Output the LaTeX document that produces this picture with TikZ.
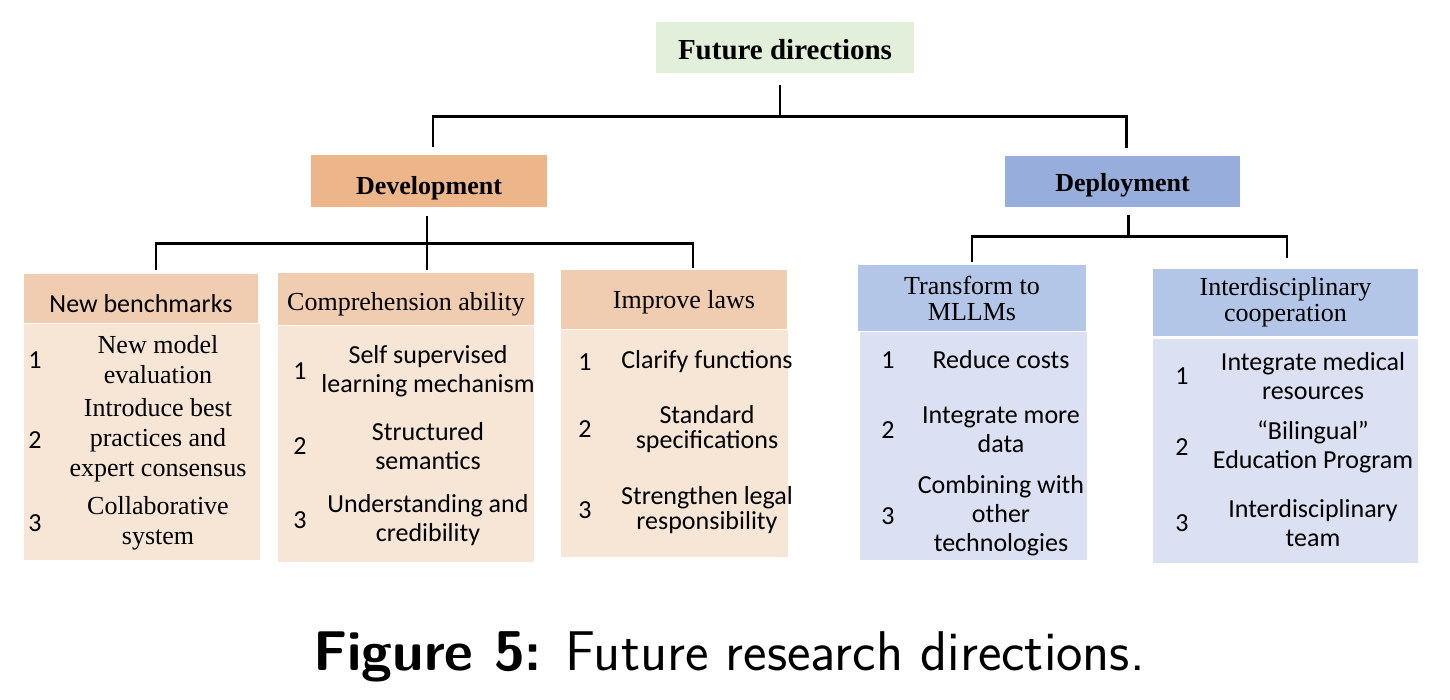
\documentclass[tikz,border=0pt]{standalone}
\usepackage{fontspec}
\setmainfont{Liberation Serif}
\newfontfamily\calib[Ligatures=TeX]{Carlito}
\usepackage{xcolor}
\usepackage{tikz}
\usetikzlibrary{positioning, calc}
\definecolor{verdeclaro}{HTML}{E2EFDA}
\definecolor{naranja}{HTML}{EDB68A}
\definecolor{naranjacab}{HTML}{F0CDB0}
\definecolor{naranjacuerpo}{HTML}{F7E6D6}
\definecolor{azul}{HTML}{97ADDB}
\definecolor{azulcab}{HTML}{B4C6E7}
\definecolor{azulcuerpo}{HTML}{DBE1F3}
\tikzset{
  raiz/.style={fill=verdeclaro, minimum width=129pt, minimum height=25.5pt,
               font=\fontsize{14.5}{16}\selectfont\bfseries},
  rama/.style={minimum width=118pt, minimum height=26pt, font=\fontsize{13}{15}\selectfont\bfseries},
  cabn/.style={fill=naranjacab, font=\fontsize{13}{14.5}\selectfont, align=center},
  caba/.style={fill=azulcab, font=\fontsize{13}{13}\selectfont, align=center},
  cuerpon/.style={fill=naranjacuerpo},
  cuerpoa/.style={fill=azulcuerpo},
  bajar/.style={text height=#1, text depth=0pt},
  num/.style={font=\calib\fontsize{13}{14.5}\selectfont, inner sep=0pt},
  item/.style={font=\calib\fontsize{13}{14.5}\selectfont, align=center, inner sep=0pt},
  itemt/.style={font=\fontsize{13}{15}\selectfont, align=center, inner sep=0pt},
  linea/.style={line width=1.2pt, black},
}

\begin{document}
\begin{tikzpicture}[x=0.5pt, y=-0.5pt]
  \useasboundingbox (0,0) rectangle (1450,700);
  % top levels
  \node[raiz, bajar=12.4pt] (root) at (785,47.5) {Future directions};
  \node[rama, fill=naranja, bajar=13.1pt] (dev) at (429,181) {Development};
  \node[rama, fill=azul, minimum width=117.5pt, minimum height=25.5pt, bajar=9.6pt] (dep) at (1122.5,181.5) {Deployment};
  % development branches
  \node[cabn, font=\calib\fontsize{13}{14.5}\selectfont, minimum width=117pt, minimum height=24.5pt, bajar=13.5pt] (h1) at (141,298.5) {New benchmarks};
  \node[cuerpon, minimum width=118pt, minimum height=118pt] (b1) at (142,442) {};
  \node[cabn, minimum width=128pt, minimum height=26pt, bajar=11.1pt] (h2) at (406,299) {Comprehension ability};
  \node[cuerpon, minimum width=128pt, minimum height=118pt] (b2) at (406,444) {};
  \node[cabn, minimum width=113pt, minimum height=29.5pt, bajar=9.1pt] (h3) at (674,299.5) {\hspace*{10pt}Improve laws};
  \node[cuerpon, minimum width=113.5pt, minimum height=113.5pt] (b3) at (674.5,443.5) {};
  % deployment branches
  \node[caba, minimum width=114pt, minimum height=33pt] (h4) at (972,298) {Transform to\\MLLMs};
  \node[cuerpoa, minimum width=113.5pt, minimum height=114pt] (b4) at (973.5,446) {};
  \node[caba, minimum width=132.5pt, minimum height=33.5pt] (h5) at (1285.5,302.5) {Interdisciplinary\\cooperation};
  \node[cuerpoa, minimum width=132.5pt, minimum height=112pt] (b5) at (1285.5,451) {};
  % items
  \node[num] (n11) at (35,360) {1};
  \node[itemt] (t11) at (158,360) {New model\\evaluation};
  \node[num] (n12) at (35,440) {2};
  \node[itemt] (t12) at (158,440) {Introduce best\\practices and\\expert consensus};
  \node[num] (n13) at (35,523) {3};
  \node[itemt] (t13) at (158,523) {Collaborative\\system};
  \node[num] (n21) at (300,371) {1};
  \node[item] (t21) at (428,371) {Self supervised\\learning mechanism};
  \node[num] (n22) at (300,446) {2};
  \node[item] (t22) at (428,446) {Structured\\semantics};
  \node[num] (n23) at (300,520) {3};
  \node[item] (t23) at (428,520) {Understanding and\\credibility};
  \node[num] (n31) at (585,362) {1};
  \node[item] (t31) at (707,362) {Clarify functions};
  \node[num] (n32) at (585,429.5) {2};
  \node[item, font=\calib\fontsize{13}{12.5}\selectfont] (t32) at (707,429.5) {Standard\\specifications};
  \node[num] (n33) at (585,510) {3};
  \node[item, font=\calib\fontsize{13}{12.5}\selectfont] (t33) at (707,510) {Strengthen legal\\responsibility};
  \node[num] (n41) at (888,360) {1};
  \node[item] (t41) at (1001,360) {Reduce costs};
  \node[num] (n42) at (888,430) {2};
  \node[item] (t42) at (1001,430) {Integrate more\\data};
  \node[num] (n43) at (888,516) {3};
  \node[item] (t43) at (1001,516) {Combining with\\other\\technologies};
  \node[num] (n51) at (1182,376) {1};
  \node[item] (t51) at (1313,376) {Integrate medical\\resources};
  \node[num] (n52) at (1182,447) {2};
  \node[item] (t52) at (1313,447) {“Bilingual”\\Education Program};
  \node[num] (n53) at (1182,523) {3};
  \node[item] (t53) at (1313,523) {Interdisciplinary\\team};
  % connectors
  \draw[linea] ([xshift=-2.5pt,yshift=-6pt]root.south) -- ++(0,-15.5pt) coordinate (rj);
  \draw[linea] ([xshift=2pt,yshift=4pt]dev.north) |- (rj) -| ([xshift=2pt,yshift=4pt]dep.north);
  \draw[linea] ([xshift=-1pt,yshift=-4.5pt]dev.south) -- ++(0,-13.5pt) coordinate (dj);
  \draw[linea] ([xshift=7.5pt,yshift=2pt]h1.north) |- (dj) -| ([xshift=9.5pt,yshift=1pt]h3.north);
  \draw[linea] (dj) -- ([xshift=10.5pt,yshift=1.5pt]h2.north);
  \draw[linea] ([xshift=3pt,yshift=-4pt]dep.south) -- ++(0,-10.5pt) coordinate (pj);
  \draw[linea] ([yshift=1.5pt]h4.north) |- (pj) -| ([xshift=0.75pt,yshift=5.5pt]h5.north);
  % caption
  \node[font=\sffamily\fontsize{28}{32}\selectfont] (cap) at (729,657) {\textbf{Figure 5:} Future research directions.};
\end{tikzpicture}
\end{document}
